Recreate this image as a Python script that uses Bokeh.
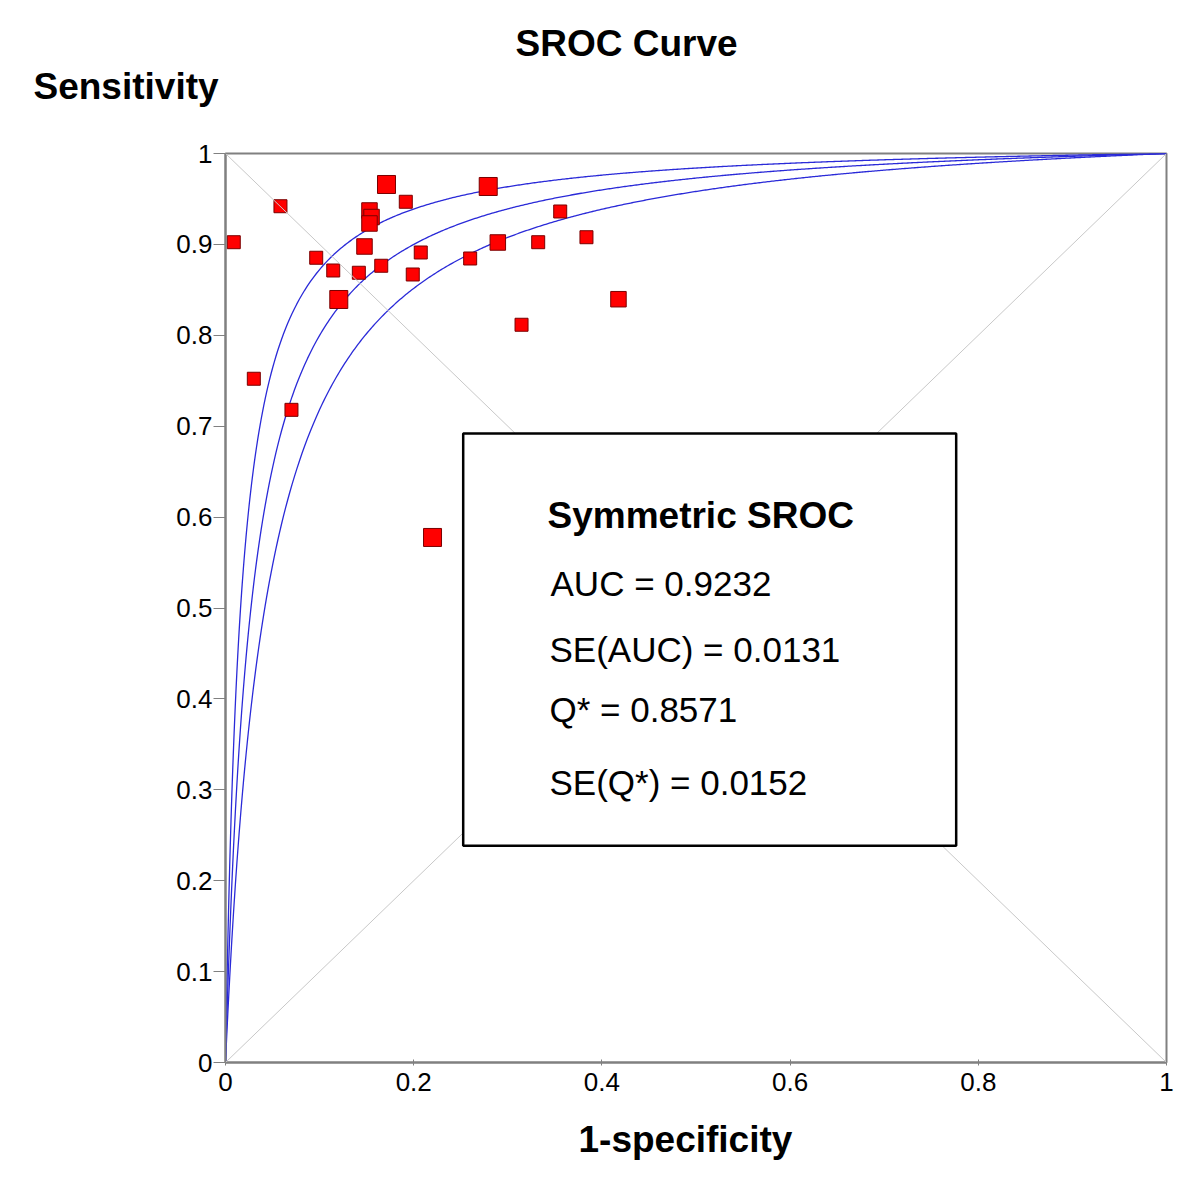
import numpy as np
from bokeh.plotting import figure
from bokeh.models import (Range1d, FixedTicker, CustomJSTickFormatter, Label,
                          Slope, BoxAnnotation, ColumnDataSource, Title)
from bokeh.embed import file_html
from bokeh.resources import INLINE

# ---------------- data ----------------
fpr = [0.0088, 0.0584, 0.0301, 0.0701, 0.0964, 0.1145, 0.1204, 0.1417,
       0.1477, 0.1530, 0.1552, 0.1530, 0.1655, 0.1711, 0.1916, 0.1990,
       0.2075, 0.2200, 0.2600, 0.2792, 0.2894, 0.3146, 0.3323, 0.3557,
       0.3836, 0.4176]
sens = [0.9024, 0.9420, 0.7522, 0.7180, 0.8853, 0.8713, 0.8394, 0.8688,
        0.8977, 0.9373, 0.9301, 0.9230, 0.8765, 0.9659, 0.9469, 0.8669,
        0.8911, 0.5776, 0.8845, 0.9637, 0.9021, 0.8116, 0.9024, 0.9362,
        0.9079, 0.8397]
# relative study weight: 1 = small, 2 = medium, 3 = large
weight = [1, 1, 1, 1, 1, 1, 3, 1,
          2, 2, 2, 2, 1, 3, 1, 1,
          1, 3, 1, 3, 2, 1, 1, 1,
          1, 2]

q_star = 0.8571
se_q = 0.0152
auc = 0.9232
se_auc = 0.0131

x_ticks = [0, 0.2, 0.4, 0.6, 0.8, 1]
y_ticks = [0, 0.1, 0.2, 0.3, 0.4, 0.5, 0.6, 0.7, 0.8, 0.9, 1]

title_text = "SROC Curve"
x_title = "1-specificity"
y_title = "Sensitivity"
box_title = "Symmetric SROC"
box_lines = ["AUC = 0.9232", "SE(AUC) = 0.0131", "Q* = 0.8571", "SE(Q*) = 0.0152"]

# ---------------- figure ----------------
FONT = "Liberation Sans"
GREY = "#808080"

p = figure(frame_width=941, frame_height=909,
           min_border_left=225, min_border_right=26,
           min_border_top=153, min_border_bottom=124,
           x_range=Range1d(0, 1), y_range=Range1d(0, 1),
           output_backend="svg", toolbar_location=None, title=None)
p.background_fill_color = "white"
p.border_fill_color = "white"
p.grid.visible = False
p.outline_line_color = GREY
p.outline_line_width = 2

fmt = CustomJSTickFormatter(code="return tick.toFixed(1).replace(/\\.0$/, '');")

xa = p.xaxis[0]
xa.ticker = FixedTicker(ticks=x_ticks)
xa.formatter = fmt
xa.axis_line_color = GREY
xa.axis_line_width = 2
xa.major_tick_line_color = GREY
xa.major_tick_in = 3
xa.major_tick_out = 3
xa.minor_tick_line_color = None
xa.major_label_text_font = FONT
xa.major_label_text_font_size = "26px"
xa.major_label_text_color = "black"
xa.major_label_standoff = 7

ya = p.yaxis[0]
ya.ticker = FixedTicker(ticks=y_ticks)
ya.formatter = fmt
ya.axis_line_color = GREY
ya.axis_line_width = 2
ya.major_tick_line_color = GREY
ya.major_tick_in = 0
ya.major_tick_out = 12
ya.minor_tick_line_color = None
ya.major_label_text_font = FONT
ya.major_label_text_font_size = "26px"
ya.major_label_text_color = "black"
ya.major_label_standoff = 1

# diagonal reference lines
p.add_layout(Slope(gradient=1, y_intercept=0, line_color="#c8c8c8", line_width=1))
p.add_layout(Slope(gradient=-1, y_intercept=1, line_color="#c8c8c8", line_width=1))

# SROC curves (symmetric: logit(TPR) = logit(FPR) + 2*logit(Q))
f = np.unique(np.concatenate([np.logspace(-7, -1, 400), np.linspace(0.1, 1.0, 600)]))
for q in [q_star - 1.96 * se_q, q_star, q_star + 1.96 * se_q]:
    odds = ((1 - q) / q) ** 2
    tpr = 1.0 / (1.0 + odds * (1 - f) / f)
    p.line(np.concatenate([[0.0], f]), np.concatenate([[0.0], tpr]),
           line_color="#2a2ad8", line_width=1.3)

# study points
size_map = {1: 13, 2: 15.5, 3: 18}
src = ColumnDataSource(dict(x=fpr, y=sens, s=[size_map[w] for w in weight]))
p.scatter("x", "y", size="s", marker="square", source=src,
          fill_color="#ff0000", line_color="#7a0000", line_width=1)

# text box
p.add_layout(BoxAnnotation(left=0.2526, right=0.7765, bottom=0.2385, top=0.6920,
                           fill_color="white", fill_alpha=1.0,
                           line_color="black", line_alpha=1.0, line_width=2.5))

def lab(x, y, t, size, bold=False, align="left"):
    p.add_layout(Label(x=x, y=y, text=t, text_font=FONT, text_font_size=size,
                       text_font_style="bold" if bold else "normal",
                       text_color="black", text_align=align,
                       text_baseline="alphabetic"))

lab(0.3422, 0.6018, box_title, "37px", bold=True)
box_pos = [(0.3454, 0.5270), (0.3443, 0.4543), (0.3443, 0.3883), (0.3443, 0.3080)]
for (bx, by), t in zip(box_pos, box_lines):
    lab(bx, by, t, "35px")

# outer titles (later "above" titles sit farther from the frame)
def ttl(t, offset, standoff, where):
    p.add_layout(Title(text=t, align="left", offset=offset, standoff=standoff,
                       text_font=FONT, text_font_size="37px", text_font_style="bold",
                       text_color="black"), where)

ttl(y_title, -192, 93, "above")
ttl(title_text, 290, -92, "above")
ttl(x_title, 353, 47, "below")

open("out.html", "w").write(file_html(p, INLINE))
